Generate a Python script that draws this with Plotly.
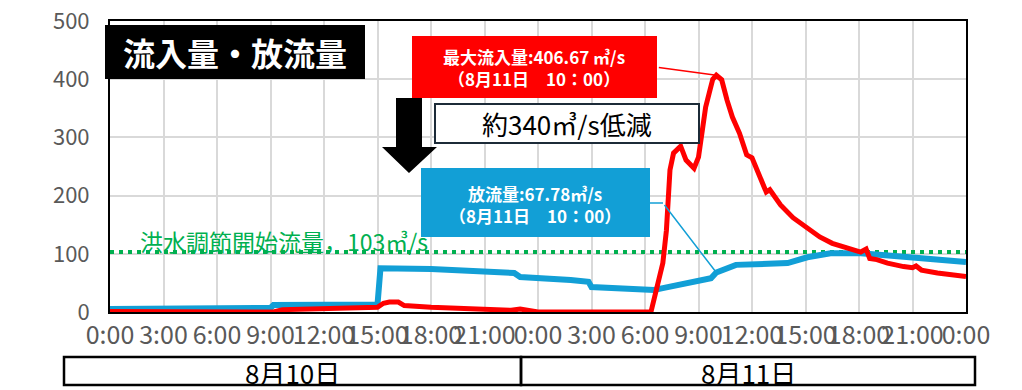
import plotly.graph_objects as go
import pandas as pd

# ---------------- data ----------------
INFLOW_TIME = [
    "2024-08-10 00:00", "2024-08-10 03:00", "2024-08-10 06:00", "2024-08-10 08:50",
    "2024-08-10 09:10", "2024-08-10 09:40", "2024-08-10 12:00", "2024-08-10 15:00",
    "2024-08-10 15:20", "2024-08-10 15:40", "2024-08-10 16:10", "2024-08-10 16:30",
    "2024-08-10 18:00", "2024-08-10 21:00", "2024-08-10 22:30", "2024-08-10 23:00",
    "2024-08-10 23:40", "2024-08-11 00:00", "2024-08-11 06:20", "2024-08-11 06:40",
    "2024-08-11 07:00", "2024-08-11 07:12", "2024-08-11 07:24", "2024-08-11 07:36",
    "2024-08-11 08:00", "2024-08-11 08:18", "2024-08-11 08:45", "2024-08-11 09:00",
    "2024-08-11 09:12", "2024-08-11 09:24", "2024-08-11 09:36", "2024-08-11 09:48",
    "2024-08-11 10:00", "2024-08-11 10:18", "2024-08-11 10:36", "2024-08-11 10:54",
    "2024-08-11 11:18", "2024-08-11 11:42", "2024-08-11 12:00", "2024-08-11 12:18",
    "2024-08-11 12:48", "2024-08-11 13:00", "2024-08-11 13:12", "2024-08-11 13:36",
    "2024-08-11 14:18", "2024-08-11 15:06", "2024-08-11 15:48", "2024-08-11 16:30",
    "2024-08-11 17:18", "2024-08-11 18:06", "2024-08-11 18:24", "2024-08-11 18:36",
    "2024-08-11 19:00", "2024-08-11 19:36", "2024-08-11 20:30", "2024-08-11 21:00",
    "2024-08-11 21:12", "2024-08-11 21:30", "2024-08-11 22:24", "2024-08-11 23:12",
    "2024-08-12 00:00",
]
INFLOW = [
    1, 1, 2, 2,
    0, 4, 6, 8,
    15, 17, 17, 11,
    8, 4, 3, 5,
    1, 0, 0, 38,
    84, 140, 244, 273,
    285, 261, 247, 266,
    318, 352, 376, 400,
    406.67, 399, 364, 335,
    307, 270, 265, 241,
    206, 210, 201, 184,
    162, 144, 129, 118,
    110, 103, 108, 92,
    90, 84, 78, 76,
    79, 72, 67, 65,
    61,
]

OUTFLOW_TIME = [
    "2024-08-10 00:00", "2024-08-10 04:00", "2024-08-10 04:10", "2024-08-10 09:00",
    "2024-08-10 09:10", "2024-08-10 15:00", "2024-08-10 15:10", "2024-08-10 18:00",
    "2024-08-10 22:40", "2024-08-10 23:00", "2024-08-11 01:50", "2024-08-11 02:50",
    "2024-08-11 03:00", "2024-08-11 05:00", "2024-08-11 06:30", "2024-08-11 07:00",
    "2024-08-11 08:18", "2024-08-11 09:42", "2024-08-11 10:00", "2024-08-11 10:48",
    "2024-08-11 11:06", "2024-08-11 14:00", "2024-08-11 15:06", "2024-08-11 16:24",
    "2024-08-11 18:06", "2024-08-11 20:30", "2024-08-11 23:00", "2024-08-12 00:00",
]
OUTFLOW = [
    5, 5, 7, 7,
    12, 13, 75, 74,
    67, 60, 55, 52,
    43, 40, 38, 41,
    50, 58, 67.78, 76,
    81, 84, 94, 101,
    101, 95, 88, 86,
]

THRESHOLD = 103
X_START, X_END = "2024-08-10 00:00", "2024-08-12 00:00"
TICK_VALS = pd.date_range(X_START, X_END, freq="3h")
TICK_LABELS = ["0:00", "3:00", "6:00", "9:00", "12:00", "15:00", "18:00", "21:00",
               "0:00", "3:00", "6:00", "9:00", "12:00", "15:00", "18:00", "21:00", "0:00"]
DAY_LABELS = ["8月10日", "8月11日"]

# ---------------- layout helpers ----------------
W, H = 1022, 390
PL, PR, PT, PB = 110, 966, 21, 312
def px(x):
    return (x - PL) / (PR - PL)
def py(y):
    return (PB - y) / (PB - PT)

FONT = "Noto Sans CJK JP"
RED = "#FF0000"
BLUE = "#129FD6"
GREEN = "#00B050"

fig = go.Figure()
fig.add_trace(go.Scatter(x=[X_START, X_END], y=[THRESHOLD, THRESHOLD], mode="lines",
                         line=dict(color=GREEN, width=4, dash="4px,5px"), hoverinfo="skip"))
fig.add_trace(go.Scatter(x=OUTFLOW_TIME, y=OUTFLOW, mode="lines",
                         line=dict(color=BLUE, width=6)))
fig.add_trace(go.Scatter(x=INFLOW_TIME, y=INFLOW, mode="lines",
                         line=dict(color=RED, width=5)))

peak_i = INFLOW.index(max(INFLOW))
peak_t = INFLOW_TIME[peak_i]
out_at_peak = OUTFLOW[OUTFLOW_TIME.index(peak_t)]

shapes = []
annotations = []

def label(xp, yp, text, size, color, xanchor="center"):
    annotations.append(dict(xref="paper", yref="paper", x=px(xp), y=py(yp), showarrow=False,
                            xanchor=xanchor, yanchor="middle", text=text,
                            font=dict(family=FONT, size=size, color=color)))

# title box
shapes.append(dict(type="rect", xref="paper", yref="paper", x0=px(105), x1=px(365),
                   y0=py(79), y1=py(25), fillcolor="black", line=dict(width=0), layer="above"))
label(235, 52, "<b>流入量・放流量</b>", 32, "white")

# red box
shapes.append(dict(type="rect", xref="paper", yref="paper", x0=px(412), x1=px(657),
                   y0=py(98), y1=py(36), fillcolor=RED, line=dict(width=0), layer="above"))
label(534, 67, "<b>最大流入量:%.2f ㎥/s</b><br><b>（8月11日　10：00）</b>" % max(INFLOW), 17, "white")
annotations.append(dict(x=peak_t, y=max(INFLOW), xref="x", yref="y", text="", showarrow=True,
                        arrowhead=0, arrowwidth=1.5, arrowcolor=RED, ax=-59, ay=-8,
                        standoff=0, startstandoff=0))

# down arrow
arrow_pts = [(396, 98), (422, 98), (422, 147), (437, 147), (409, 173), (382, 147), (396, 147)]
path = "M " + " L ".join("%f,%f" % (px(a), py(b)) for a, b in arrow_pts) + " Z"
shapes.append(dict(type="path", xref="paper", yref="paper", path=path, fillcolor="black",
                   line=dict(width=0), layer="above"))

# reduction box
shapes.append(dict(type="rect", xref="paper", yref="paper", x0=px(435), x1=px(699),
                   y0=py(143), y1=py(104), fillcolor="white", line=dict(width=2, color="#1c2b38"),
                   layer="above"))
label(567, 124, "約340㎥/s低減", 26, "black")

# blue box
shapes.append(dict(type="rect", xref="paper", yref="paper", x0=px(421), x1=px(650),
                   y0=py(237), y1=py(168), fillcolor=BLUE, line=dict(width=0), layer="above"))
label(535, 204, "<b>放流量:%.2f㎥/s</b><br><b>（8月11日　10：00）</b>" % out_at_peak, 17, "white")
shapes.append(dict(type="line", xref="paper", yref="paper", x0=px(650), x1=px(663),
                   y0=py(203), y1=py(203), line=dict(color=BLUE, width=1.5), layer="above"))
annotations.append(dict(x=peak_t, y=out_at_peak, xref="x", yref="y", text="", showarrow=True,
                        arrowhead=0, arrowwidth=1.5, arrowcolor=BLUE, ax=-53, ay=-69,
                        standoff=0, startstandoff=0))

# threshold label
label(138, 241, "洪水調節開始流量，%d㎥/s" % THRESHOLD, 23, GREEN, xanchor="left")

# day boxes
day_edges = [64, 521, 975]
for i, lab in enumerate(DAY_LABELS):
    shapes.append(dict(type="rect", xref="paper", yref="paper", x0=px(day_edges[i]),
                       x1=px(day_edges[i + 1]), y0=py(385), y1=py(357),
                       line=dict(color="black", width=2.5), fillcolor="rgba(0,0,0,0)"))
    label((day_edges[i] + day_edges[i + 1]) / 2, 372, lab, 26, "black")

fig.update_layout(
    width=W, height=H,
    margin=dict(l=PL, r=W - PR, t=PT, b=H - PB, pad=0),
    paper_bgcolor="white", plot_bgcolor="white",
    showlegend=False,
    shapes=shapes, annotations=annotations,
    xaxis=dict(type="date", range=[X_START, X_END], tickvals=TICK_VALS, ticktext=TICK_LABELS,
               tickangle=0, showgrid=True, gridcolor="#d9d9d9", gridwidth=2, automargin=False,
               showline=True, linecolor="black", linewidth=2, mirror=True, zeroline=False,
               tickfont=dict(family=FONT, size=25, color="#595959"), ticks=""),
    yaxis=dict(range=[0, 500], dtick=100, showgrid=True, gridcolor="#d9d9d9", gridwidth=2,
               showline=True, linecolor="black", linewidth=2, mirror=True, zeroline=False,
               automargin=False,
               tickfont=dict(family=FONT, size=22, color="#595959"), ticks="",
               ticklabelstandoff=14),
)

fig.write_html("out.html")
